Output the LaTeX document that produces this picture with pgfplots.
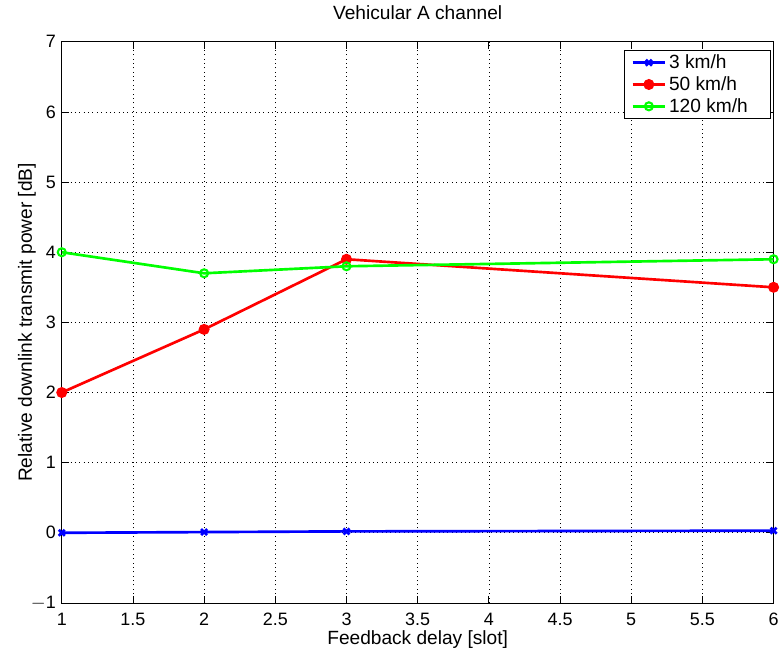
\documentclass[border=0pt]{standalone}
\usepackage{fontspec}
\setmainfont{Liberation Sans}
\usepackage{pgfplots}
\pgfplotsset{compat=1.18}

\begin{document}
\begin{tikzpicture}
\begin{axis}[
  scale only axis,
  width=536pt, height=422.5pt,
  xmin=1, xmax=6, ymin=-1, ymax=7,
  xtick={1,1.5,...,6},
  ytick={-1,0,...,7},
  xticklabels={1,1.5,2,2.5,3,3.5,4,4.5,5,5.5,6},
  yticklabels={$-$1,0,1,2,3,4,5,6,7},
  tick align=inside,
  tick pos=both,
  major tick length=5.5pt,
  grid=major,
  major grid style={black, dash pattern=on 0.7pt off 2.6pt, line width=0.5pt},
  axis line style={black, line width=0.6pt},
  tick style={black, line width=0.6pt},
  ticklabel style={font=\fontsize{13.5}{15}\selectfont},
  xticklabel style={anchor=base, yshift=-17pt},
  yticklabel style={anchor=east, xshift=-1pt},
  label style={font=\fontsize{14.4}{16}\selectfont},
  title style={font=\fontsize{14.4}{16}\selectfont, at={(0.5,1)}, anchor=base, yshift=11pt},
  title={Vehicular A channel},
  xlabel={Feedback delay [slot]},
  ylabel={Relative downlink transmit power [dB]},
  xlabel style={at={(0.5,0)}, anchor=base, yshift=-31.5pt},
  ylabel style={at={(0,0.5)}, anchor=base, yshift=22.5pt},
  legend style={at={(0.996,0.986)}, anchor=north east, draw=black, line width=0.6pt,
    font=\fontsize{14.4}{16}\selectfont, row sep=0.5pt, inner xsep=5pt, inner ysep=1.5pt,
    nodes={inner sep=2pt}},
  legend cell align=left,
  legend image code/.code={\draw[mark repeat=2,mark phase=2] plot coordinates {(0cm,0cm) (0.43cm,0cm) (0.86cm,0cm)};},
]
\addplot[blue, line width=2pt, mark=x, mark size=3.2pt, mark options={line width=2pt}]
  coordinates {(1,0) (2,0.01) (3,0.02) (6,0.03)};
\addlegendentry{3 km/h\hspace*{10pt}}
\addplot[red, line width=2pt, mark=*, mark size=3.1pt]
  coordinates {(1,2) (2,2.9) (3,3.9) (6,3.5)};
\addlegendentry{50 km/h\hspace*{10pt}}
\addplot[green, line width=2pt, mark=o, mark size=3pt, mark options={line width=1.6pt}]
  coordinates {(1,4) (2,3.7) (3,3.8) (6,3.9)};
\addlegendentry{120 km/h\hspace*{10pt}}
\end{axis}
% page margins as in the reference
\path ([xshift=-46.5pt,yshift=-37.5pt]current axis.south west)
  rectangle ([xshift=4pt,yshift=31.5pt]current axis.north east);
\end{tikzpicture}
\end{document}
